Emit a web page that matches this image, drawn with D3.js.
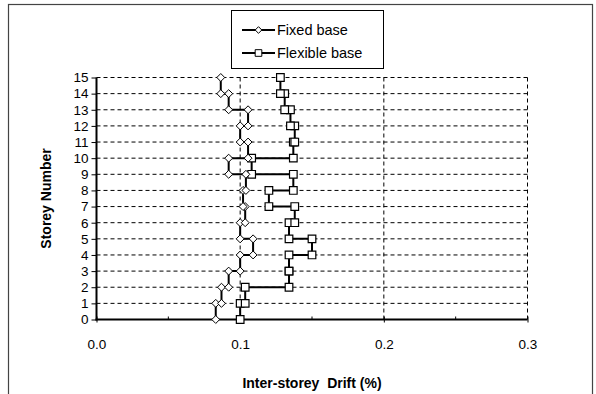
<!DOCTYPE html>
<html>
<head>
<meta charset="utf-8">
<script src="https://cdn.jsdelivr.net/npm/d3@7"></script>
<style>
  html, body { margin: 0; padding: 0; background: #fff; }
  svg { display: block; font-family: "Liberation Sans", Arial, sans-serif; }
</style>
</head>
<body>
<svg id="chart" width="596" height="394"></svg>
<script>
// Storeys 1..15; each storey spans from floor level (i-1) to level i
const storeys = d3.range(1, 16);
const fixedDrift = [0.083, 0.087, 0.092, 0.100, 0.109, 0.100, 0.1035, 0.102, 0.104, 0.092, 0.1055, 0.100, 0.1055, 0.092, 0.0865];
const flexibleDrift = [0.100, 0.1035, 0.134, 0.134, 0.150, 0.134, 0.138, 0.120, 0.137, 0.108, 0.137, 0.138, 0.135, 0.131, 0.128];
const xTicks = [0.0, 0.1, 0.2, 0.3];
const xMinorTicks = [0.05, 0.15, 0.25];
const yTicks = d3.range(0, 16);
const seriesNames = ["Fixed base", "Flexible base"];

const svg = d3.select("#chart");

// Outer chart frame
svg.append("rect")
  .attr("x", 8.5).attr("y", 4.5)
  .attr("width", 584).attr("height", 400)
  .attr("fill", "none").attr("stroke", "#444").attr("stroke-width", 1.2);

const x = d3.scaleLinear().domain([0, 0.3]).range([96.5, 527.5]);
const y = d3.scaleLinear().domain([0, 15]).range([319.5, 77.5]);

// Gridlines
const grid = svg.append("g").attr("stroke", "#000").attr("stroke-width", 1).attr("stroke-dasharray", "4,3");
grid.selectAll("line.h").data(yTicks.filter(d => d > 0)).join("line")
  .attr("class", "h")
  .attr("x1", x(0)).attr("x2", x(0.3))
  .attr("y1", d => y(d)).attr("y2", d => y(d));
grid.selectAll("line.v").data(xTicks.filter(d => d > 0)).join("line")
  .attr("class", "v")
  .attr("x1", d => x(d)).attr("x2", d => x(d))
  .attr("y1", y(0)).attr("y2", y(15));

// Y axis
const yAxis = svg.append("g").attr("transform", `translate(${x(0)},0)`)
  .call(d3.axisLeft(y).tickValues(yTicks).tickSize(5).tickPadding(3).tickFormat(d3.format("d")));
yAxis.select(".domain").attr("stroke-width", 2).attr("d", `M0,${y(0) + 1}V${y(15)}`);
yAxis.selectAll(".tick line").attr("stroke-width", 1);
yAxis.selectAll(".tick text").attr("font-size", 13.5).attr("font-family", "Liberation Sans, Arial, sans-serif").attr("fill", "#000");

// X axis
const xAxis = svg.append("g").attr("transform", `translate(0,${y(0)})`)
  .call(d3.axisBottom(x).tickValues(xTicks).tickSize(3).tickPadding(17).tickFormat(d3.format(".1f")));
xAxis.select(".domain").attr("stroke-width", 2).attr("d", `M${x(0) - 1},0H${x(0.3)}`);
xAxis.selectAll(".tick line").attr("y1", -3);
xAxis.selectAll(".tick text").attr("font-size", 13.5).attr("font-family", "Liberation Sans, Arial, sans-serif").attr("fill", "#000");
svg.append("g").selectAll("line").data(xMinorTicks).join("line")
  .attr("x1", d => x(d)).attr("x2", d => x(d))
  .attr("y1", y(0)).attr("y2", y(0) - 3)
  .attr("stroke", "#000");

// Axis titles
svg.append("text")
  .attr("x", 312).attr("y", 388)
  .attr("text-anchor", "middle")
  .attr("font-size", 14).attr("font-weight", "bold")
  .style("white-space", "pre")
  .text("Inter-storey  Drift (%)");
svg.append("text")
  .attr("transform", `translate(51,${(y(0) + y(15)) / 2}) rotate(-90)`)
  .attr("text-anchor", "middle")
  .attr("font-size", 14).attr("font-weight", "bold")
  .text("Storey Number");

// Step profile: each storey drawn as a vertical segment at its drift value
function stepPoints(drifts) {
  const pts = [];
  storeys.forEach((s, i) => {
    pts.push([drifts[i], s - 1]);
    pts.push([drifts[i], s]);
  });
  return pts;
}

const line = d3.line().x(d => x(d[0])).y(d => y(d[1]));
const diamond = d3.symbol().type(d3.symbolDiamond2).size(40);
const square = d3.symbol().type(d3.symbolSquare).size(58);

const fixedPts = stepPoints(fixedDrift);
const flexPts = stepPoints(flexibleDrift);

svg.append("path").datum(flexPts)
  .attr("d", line).attr("fill", "none").attr("stroke", "#000").attr("stroke-width", 2);
svg.append("path").datum(fixedPts)
  .attr("d", line).attr("fill", "none").attr("stroke", "#000").attr("stroke-width", 2);

svg.append("g").selectAll("path").data(flexPts).join("path")
  .attr("d", square)
  .attr("transform", d => `translate(${x(d[0])},${y(d[1])})`)
  .attr("fill", "#fff").attr("stroke", "#000").attr("stroke-width", 1.2);
svg.append("g").selectAll("path").data(fixedPts).join("path")
  .attr("d", diamond)
  .attr("transform", d => `translate(${x(d[0])},${y(d[1])})`)
  .attr("fill", "#fff").attr("stroke", "#000").attr("stroke-width", 1);

// Legend
const legend = svg.append("g");
legend.append("rect")
  .attr("x", 231.5).attr("y", 10.5).attr("width", 152).attr("height", 58)
  .attr("fill", "#fff").attr("stroke", "#000").attr("stroke-width", 1);
const legendSymbols = [d3.symbol().type(d3.symbolDiamond2).size(28), d3.symbol().type(d3.symbolSquare).size(44)];
seriesNames.forEach((name, i) => {
  const ly = 30 + i * 23;
  legend.append("line")
    .attr("x1", 242).attr("x2", 275).attr("y1", ly).attr("y2", ly)
    .attr("stroke", "#000").attr("stroke-width", 2);
  legend.append("path")
    .attr("d", legendSymbols[i])
    .attr("transform", `translate(258.5,${ly})`)
    .attr("fill", "#fff").attr("stroke", "#000").attr("stroke-width", 1);
  legend.append("text")
    .attr("x", 277).attr("y", ly + 5)
    .attr("font-size", 14.5)
    .text(name);
});
</script>
</body>
</html>
